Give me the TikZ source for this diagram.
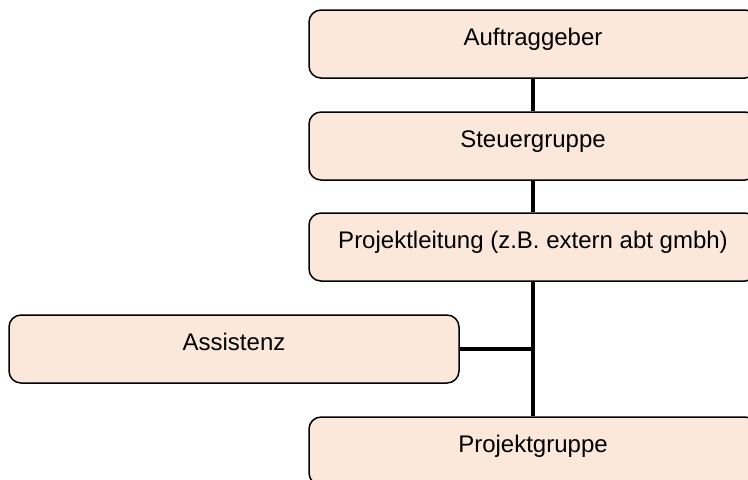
\documentclass[tikz,border=0pt]{standalone}
\usepackage{fontspec}
\setmainfont{Liberation Sans}
\definecolor{boxfill}{RGB}{252,232,218}
\tikzset{
  orgbox/.style={draw=black, line width=0.75pt, fill=boxfill, rounded corners=6pt,
    minimum width=224pt, minimum height=34pt, inner sep=0pt,
    text height=4pt, text depth=3pt, font=\fontsize{12}{14}\selectfont},
  link/.style={line width=2.2pt, draw=black}
}
\begin{document}
\begin{tikzpicture}[x=0.5pt,y=-0.5pt]
\useasboundingbox (0,0) rectangle (748,479);
\clip (0,0) rectangle (748,479);
\node[orgbox] (auf) at (533,44) {Auftraggeber};
\node[orgbox] (steu) at (533,146) {Steuergruppe};
\node[orgbox] (pl) at (533,247) {Projektleitung (z.B. extern abt gmbh)};
\node[orgbox, minimum width=225pt] (ass) at (234,349) {Assistenz};
\node[orgbox] (pg) at (533,451) {Projektgruppe};
\coordinate (j) at (533,349);
\draw[link] (auf.south) -- (steu.north);
\draw[link] (steu.south) -- (pl.north);
\draw[link] (pl.south) -- (pg.north);
\draw[link] (ass.east) -- (j);
\end{tikzpicture}
\end{document}
